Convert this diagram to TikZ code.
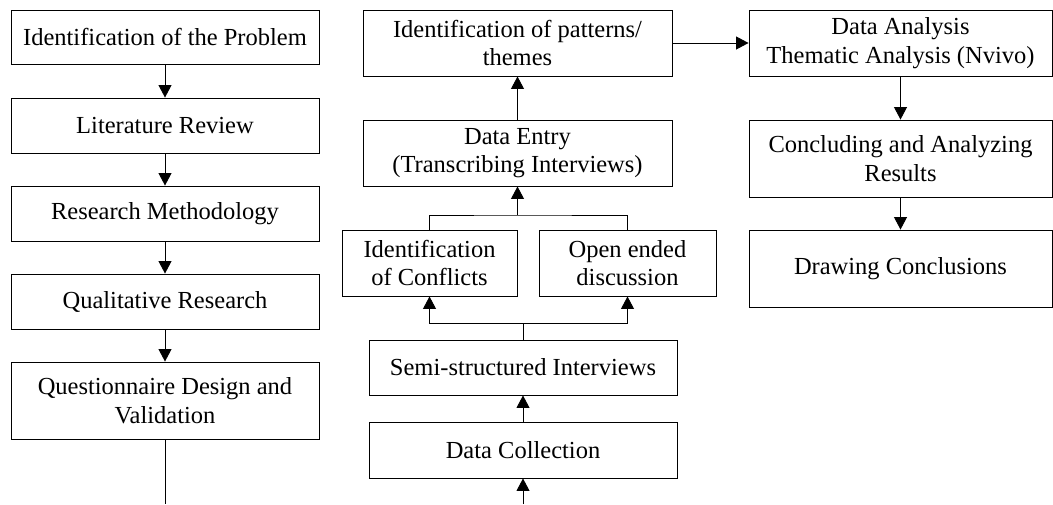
\documentclass[tikz,border=0pt]{standalone}
\usepackage{fontspec}
\setmainfont{Liberation Serif}
\usetikzlibrary{arrows.meta}
\begin{document}
\begin{tikzpicture}[x=1pt,y=-1pt,
  box/.style={draw, line width=0.9pt, align=center, inner sep=0pt,
    font=\fontsize{24.5}{28.5}\selectfont},
  arr/.style={line width=0.9pt, -{Triangle[length=12.5pt,width=13pt]}},
  ln/.style={line width=0.9pt}]
\useasboundingbox (0,0) rectangle (1053,504);
% left column
\node[box, minimum width=308, minimum height=54] (L1) at (165,37) {Identification of the Problem};
\node[box, minimum width=308, minimum height=55] (L2) at (165,125.5) {Literature Review};
\node[box, minimum width=308, minimum height=55] (L3) at (165,213.5) {Research Methodology};
\node[box, minimum width=308, minimum height=55] (L4) at (165,301.5) {Qualitative Research};
\node[box, minimum width=308, minimum height=77] (L5) at (165,400.5) {Questionnaire Design and\\Validation};
\coordinate (Lend) at (165,504);
\draw[arr] (L1) -- (L2);
\draw[arr] (L2) -- (L3);
\draw[arr] (L3) -- (L4);
\draw[arr] (L4) -- (L5);
\draw[ln] (L5) -- (Lend);
% middle column
\node[box, minimum width=309, minimum height=66] (M1) at (517.5,43) {Identification of patterns/\\themes};
\node[box, minimum width=309, minimum height=66] (M2) at (517.5,153) {Data Entry\\(Transcribing Interviews)};
\node[box, minimum width=175, minimum height=66] (M3) at (429.5,263) {Identification\\of Conflicts};
\node[box, minimum width=177, minimum height=66] (M4) at (627.5,263) {Open ended\\discussion};
\node[box, minimum width=308, minimum height=55] (M5) at (523,367.5) {Semi-structured Interviews};
\node[box, minimum width=308, minimum height=56] (M6) at (523,450) {Data Collection};
\coordinate (j1) at (517.5,215);
\coordinate (j2) at (523,323);
\coordinate (Mstart) at (523,504);
\draw[arr] (M2) -- (M1);
\draw[ln] (M3.north) |- (j1) -| (M4.north);
\draw[arr] (j1) -- (M2.south);
\draw[ln] (M5.north) -- (j2);
\draw[arr] (j2) -| (M3.south);
\draw[arr] (j2) -| (M4.south);
\draw[arr] (M6) -- (M5);
\draw[arr] (Mstart) -- (M6);
% right column
\node[box, minimum width=303, minimum height=66] (R1) at (900.5,43) {Data Analysis\\Thematic Analysis (Nvivo)};
\node[box, minimum width=303, minimum height=77] (R2) at (900.5,158.5) {Concluding and Analyzing\\Results};
\node[box, minimum width=303, minimum height=77] (R3) at (900.5,268.5) {Drawing Conclusions};
\draw[arr] (M1) -- (R1);
\draw[arr] (R1) -- (R2);
\draw[arr] (R2) -- (R3);
\end{tikzpicture}
\end{document}
